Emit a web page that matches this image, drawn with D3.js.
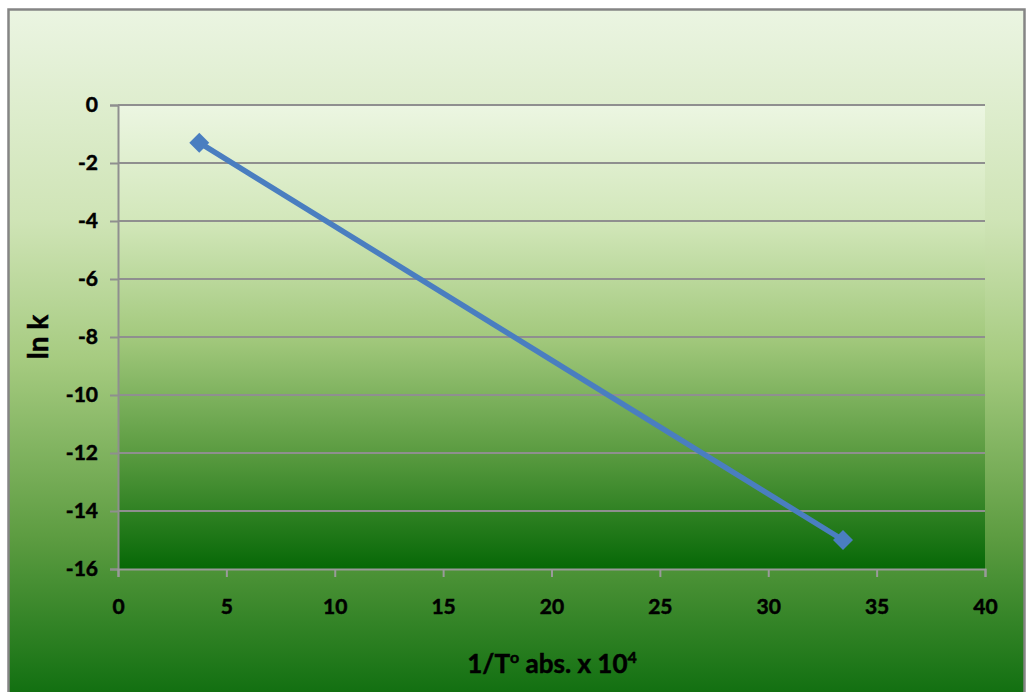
<!DOCTYPE html>
<html><head><meta charset="utf-8">
<script src="https://cdn.jsdelivr.net/npm/d3@7"></script>
<style>body{margin:0;background:#fff}svg{display:block}</style>
</head><body>
<script>
const xValues = [3.75, 33.45];
const yValues = [-1.3, -15.0];
const xTicks = [0, 5, 10, 15, 20, 25, 30, 35, 40];
const yTicks = [0, -2, -4, -6, -8, -10, -12, -14, -16];
const xTitle = "1/T";
const yTitle = "ln k";

const W = 1028, H = 692;
const svg = d3.select("body").append("svg").attr("width", W).attr("height", H);
const defs = svg.append("defs");
function grad(id, stops){
  const g = defs.append("linearGradient").attr("id", id).attr("x1",0).attr("y1",0).attr("x2",0).attr("y2",1);
  stops.forEach(s => g.append("stop").attr("offset", s[0]).attr("stop-color", s[1]));
}
grad("outerG", [[0,"#ebf5e2"],[0.3,"#cfe4b6"],[0.5,"#a6cb80"],[0.75,"#5e9d42"],[1,"#0a6b0c"]]);
grad("plotG", [[0,"#ecf6e2"],[0.25,"#d2e7ba"],[0.5,"#a3c97d"],[0.75,"#5a9b40"],[1,"#066806"]]);

svg.append("rect").attr("x",8.5).attr("y",9.5).attr("width",1016).attr("height",700)
  .attr("fill","url(#outerG)").attr("stroke","#858585").attr("stroke-width",2.5);

const m = {l:118, r:985, t:105, b:569};
const x = d3.scaleLinear().domain([0,40]).range([m.l, m.r]);
const y = d3.scaleLinear().domain([-16,0]).range([m.b, m.t]);

svg.append("rect").attr("x",m.l).attr("y",m.t).attr("width",m.r-m.l).attr("height",m.b-m.t)
  .attr("fill","url(#plotG)");

// gridlines
svg.append("g").selectAll("line").data(yTicks.filter(d=>d!==-16)).join("line")
  .attr("x1",m.l).attr("x2",m.r).attr("y1",d=>y(d)).attr("y2",d=>y(d))
  .attr("stroke","#8f8f8f").attr("stroke-width",2);

const font = "Lato, 'Open Sans', sans-serif";
function styleText(sel, size){
  sel.attr("font-family",font).attr("font-weight","bold").attr("font-size",size)
    .attr("fill","#000").attr("stroke","#000").attr("stroke-width",0.5);
}
// y axis
const ya = svg.append("g").attr("transform",`translate(${m.l},0)`)
  .call(d3.axisLeft(y).tickValues(yTicks).tickSize(8).tickPadding(12).tickFormat(d=>d===0?"0":"-"+Math.abs(d)));
ya.select(".domain").attr("stroke","#8f8f8f").attr("stroke-width",2);
ya.selectAll(".tick line").attr("stroke","#8f8f8f").attr("stroke-width",2);
styleText(ya.selectAll("text"), 21);

// x axis
const xa = svg.append("g").attr("transform",`translate(0,${m.b})`)
  .call(d3.axisBottom(x).tickValues(xTicks).tickSize(8).tickPadding(22));
xa.select(".domain").attr("stroke","#9a9a9a").attr("stroke-width",2);
xa.selectAll(".tick line").attr("stroke","#9a9a9a").attr("stroke-width",2);
styleText(xa.selectAll("text"), 21);

// titles
const yt = svg.append("text").attr("transform","translate(48,337) rotate(-90)").attr("text-anchor","middle").text(yTitle);
styleText(yt, 28);
const xt = svg.append("text").attr("x",552).attr("y",673).attr("text-anchor","middle");
styleText(xt, 26);
xt.append("tspan").text(xTitle);
xt.append("tspan").attr("font-size",16).attr("dy",-10).text("o");
xt.append("tspan").attr("dy",10).text(" abs. x 10");
xt.append("tspan").attr("font-size",16).attr("dy",-10).text("4");

// data
const pts = xValues.map((v,i)=>[v,yValues[i]]);
svg.append("path").datum(pts)
  .attr("d", d3.line().x(d=>x(d[0])).y(d=>y(d[1])))
  .attr("fill","none").attr("stroke","#4a7ec0").attr("stroke-width",5.5);
svg.append("g").selectAll("path").data(pts).join("path")
  .attr("d", d3.symbol().type(d3.symbolSquare).size(200))
  .attr("transform", d=>`translate(${x(d[0])},${y(d[1])}) rotate(45)`)
  .attr("fill","#4a7ec0");
</script>
</body></html>
